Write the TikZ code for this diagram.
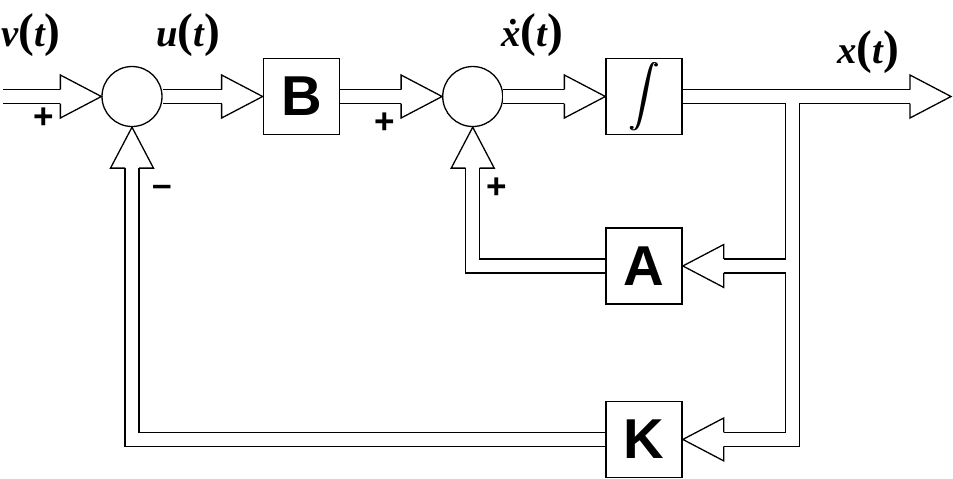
\documentclass[tikz,border=0pt]{standalone}
\usepackage{fontspec}
\setmainfont{Liberation Serif}
\setsansfont{Liberation Sans}
\usetikzlibrary{arrows.meta,positioning}

\newdimen\railhalf
\railhalf=0.14cm
\pgfdeclarearrow{
  name = Hollow,
  parameters = {\the\pgfarrowlength,\the\pgfarrowwidth},
  setup code = {
    \pgfarrowssettipend{\pgfarrowlength}
    \pgfarrowssetlineend{0pt}
    \pgfarrowssetbackend{0pt}
    \pgfarrowssavethe\pgfarrowlength
    \pgfarrowssavethe\pgfarrowwidth
  },
  drawing code = {
    \pgfsetdash{}{0pt}
    \pgfsetlinewidth{0.026cm}
    \pgfsetmiterjoin
    \pgfpathmoveto{\pgfqpoint{0pt}{\railhalf}}
    \pgfpathlineto{\pgfqpoint{0pt}{.5\pgfarrowwidth}}
    \pgfpathlineto{\pgfqpoint{\pgfarrowlength}{0pt}}
    \pgfpathlineto{\pgfqpoint{0pt}{-.5\pgfarrowwidth}}
    \pgfpathlineto{\pgfqpoint{0pt}{-\railhalf}}
    \pgfusepathqstroke
  },
  defaults = {length = 0.82cm, width = 0.86cm}
}
\newcommand{\bigpar}[1]{{\upshape\fontsize{27}{27}\selectfont#1}}
\newcommand{\sigof}[1]{#1\bigpar{(}t\bigpar{)}}
\newcommand{\intglyph}{\scalebox{1.75}{$\displaystyle\int$}}
\newcommand{\integsym}{\raisebox{3pt}{\rlap{\intglyph}\hspace{0.7pt}\intglyph}}

\begin{document}
\begin{tikzpicture}[x=0.02cm, y=-0.02cm,
    bus/.style={draw, line width=0.026cm, double=white, double distance=0.254cm, -{Hollow}},
    sumnode/.style={circle, draw, line width=0.026cm, minimum size=1.2cm, inner sep=0pt},
    blk/.style={draw, line width=0.03cm, minimum size=1.52cm, inner sep=0pt,
                font=\sffamily\bfseries\fontsize{32}{32}\selectfont},
    siglbl/.style={font=\bfseries\itshape\fontsize{22}{22}\selectfont},
    sgn/.style={font=\sffamily\bfseries\fontsize{20}{20}\selectfont}
  ]
  \useasboundingbox (0,0) rectangle (953,478);
  \node[sumnode] (s1) at (132,96.5) {};
  \node[blk, right=2cm of s1] (B) {B};
  \node[sumnode, right=2.04cm of B] (s2) {};
  \node[blk, right=2.04cm of s2] (integ) {\integsym};
  \node[blk, below=1.84cm of integ] (A) {A};
  \node[blk, below=1.92cm of A] (K) {K};
  \coordinate (in) at (3,96.5);
  \coordinate (out) at (951,96.5);
  \coordinate (split) at (792.5,102.85);
  \coordinate[xshift=-0.127cm] (tapA) at (split |- A.east);

  \node[siglbl] (v) at (31,35) {\sigof{v}};
  \node[siglbl] (u) at (188,35) {\sigof{u}};
  \node[siglbl] (xd) at (532,35) {\sigof{\.{x}}};
  \node[siglbl] (x) at (868,52) {\sigof{x}};
  \node[sgn] (p1) at (44,118) {+};
  \node[sgn] (m1) at (162,191) {--};
  \node[sgn] (p2) at (385,123) {+};
  \node[sgn] (p3) at (497,188) {+};

  \draw[bus] (in) -- (s1.west);
  \draw[bus] (s1.east) -- (B.west);
  \draw[bus] (B.east) -- (s2.west);
  \draw[bus] (s2.east) -- (integ.west);
  \draw[bus] (integ.east) -- (out);
  \draw[bus] (split) |- (K.east);
  \draw[bus] (tapA) -- (A.east);
  \draw[bus] (A.west) -| (s2.south);
  \draw[bus] (K.west) -| (s1.south);
\end{tikzpicture}
\end{document}
